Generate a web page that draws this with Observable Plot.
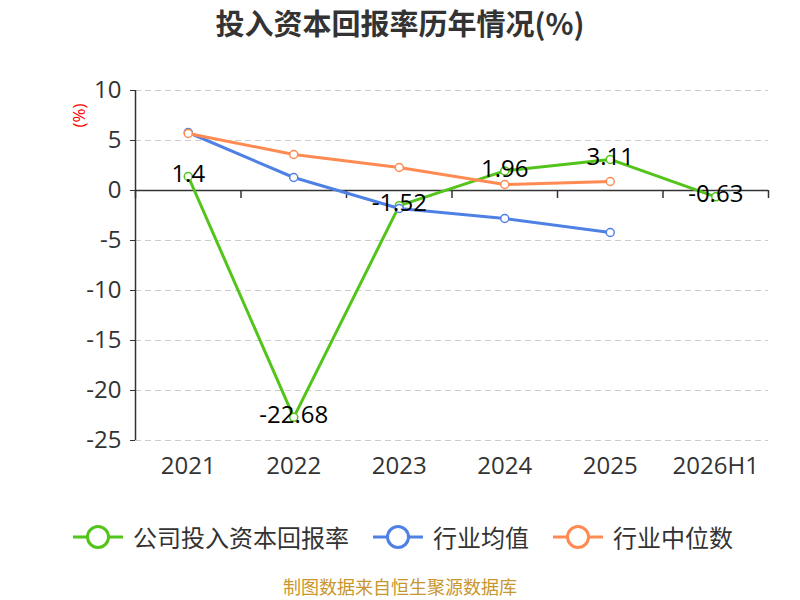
<!DOCTYPE html>
<html>
<head>
<meta charset="utf-8">
<script src="https://cdn.jsdelivr.net/npm/d3@7"></script>
<script src="https://cdn.jsdelivr.net/npm/@observablehq/plot@0.6"></script>
<style>
  body { margin: 0; background: #fff; font-family: "Noto Sans CJK SC", "Noto Sans", sans-serif; }
  #wrap { width: 800px; height: 600px; position: relative; overflow: hidden; }
  #title { height: 45px; line-height: 44px; text-align: center; font-size: 29px; font-weight: bold; color: #333; }
  #legend { position: absolute; top: 519px; left: 73px; display: flex; align-items: center; font-size: 24px; color: #333; white-space: nowrap; }
  .item { display: flex; align-items: center; margin-right: 24px; }
  .item svg { margin-right: 10px; }
  #footer { position: absolute; top: 574px; width: 800px; text-align: center; font-size: 18px; line-height: 24px; color: #c8962d; }
</style>
</head>
<body>
<div id="wrap">
  <div id="title">投入资本回报率历年情况(%)</div>
  <div id="chart"></div>
  <div id="legend"></div>
  <div id="footer">制图数据来自恒生聚源数据库</div>
</div>
<script>
const years = ["2021", "2022", "2023", "2024", "2025", "2026H1"];
const companyValues = [1.4, -22.68, -1.52, 1.96, 3.11, -0.63];
const industryAvg = [5.8, 1.3, -1.8, -2.8, -4.2];
const industryMedian = [5.7, 3.6, 2.3, 0.6, 0.9];
const yTicks = [10, 5, 0, -5, -10, -15, -20, -25];
const seriesNames = ["公司投入资本回报率", "行业均值", "行业中位数"];
const colors = ["#52c41a", "#4f81e5", "#ff8b52"];

const company = companyValues.map((v, i) => ({i, v}));
const avg = industryAvg.map((v, i) => ({i, v}));
const median = industryMedian.map((v, i) => ({i, v}));
const boundaries = d3.range(years.length + 1).map(k => k - 0.5);

const font = "'Open Sans', 'Noto Sans CJK SC', sans-serif";

const chart = Plot.plot({
  width: 800,
  height: 470,
  marginTop: 45,
  marginBottom: 75,
  marginLeft: 135,
  marginRight: 32,
  style: {fontFamily: font, background: "transparent"},
  x: {type: "linear", domain: [-0.5, years.length - 0.5]},
  y: {domain: [-25, 10]},
  marks: [
    Plot.ruleY(yTicks, {stroke: "#cccccc", strokeWidth: 1.2, strokeDasharray: "6,4"}),
    Plot.axisY({ticks: yTicks, tickSize: 5, tickPadding: 9, fontSize: 24, color: "#333", stroke: "#333", label: null, tickFormat: d => String(d)}),
    Plot.ruleX([-0.5], {y1: -25, y2: 10, stroke: "#333", strokeWidth: 1.5}),
    Plot.axisX({ticks: d3.range(years.length), tickSize: 0, tickPadding: 16, fontSize: 24, color: "#333", tickFormat: i => years[i], label: null}),
    Plot.ruleY([0], {x1: -0.5, x2: years.length - 0.5, stroke: "#333", strokeWidth: 1.5}),
    Plot.ruleX(boundaries, {x: d => d, y1: 0, y2: -0.8, stroke: "#333", strokeWidth: 1.5}),
    Plot.text(["(%)"], {frameAnchor: "top-left", dx: -63, dy: 37, rotate: -90, fill: "red", fontSize: 17, text: d => d}),
    Plot.line(company, {x: "i", y: "v", stroke: colors[0], strokeWidth: 3}),
    Plot.dot(company, {x: "i", y: "v", r: 4, fill: "white", stroke: colors[0], strokeWidth: 1.5}),
    Plot.line(avg, {x: "i", y: "v", stroke: colors[1], strokeWidth: 3}),
    Plot.dot(avg, {x: "i", y: "v", r: 4, fill: "white", stroke: colors[1], strokeWidth: 1.5}),
    Plot.line(median, {x: "i", y: "v", stroke: colors[2], strokeWidth: 3}),
    Plot.dot(median, {x: "i", y: "v", r: 4, fill: "white", stroke: colors[2], strokeWidth: 1.5}),
    Plot.text(company, {x: "i", y: "v", text: d => String(d.v), dy: -2, fontSize: 24, fill: "#000"})
  ]
});
document.getElementById("chart").appendChild(chart);

const legend = document.getElementById("legend");
seriesNames.forEach((name, k) => {
  const item = document.createElement("div");
  item.className = "item";
  item.innerHTML = `<svg width="50" height="26"><line x1="0" y1="13" x2="50" y2="13" stroke="${colors[k]}" stroke-width="3"/><circle cx="25" cy="13" r="10.5" fill="white" stroke="${colors[k]}" stroke-width="3"/></svg><span>${name}</span>`;
  legend.appendChild(item);
});
</script>
</body>
</html>
